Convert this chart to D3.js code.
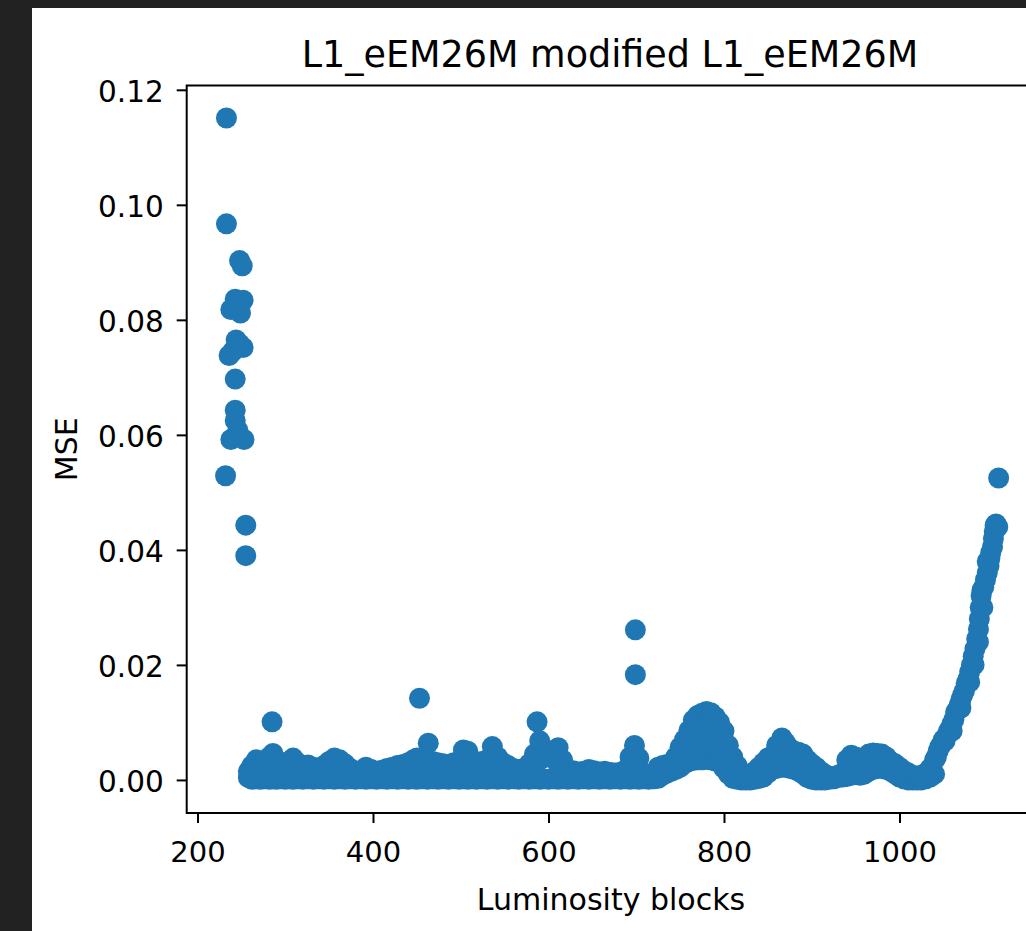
<!DOCTYPE html>
<html>
<head>
<meta charset="utf-8">
<script src="https://cdn.jsdelivr.net/npm/d3@7"></script>
<style>
body { margin: 0; background: #222; }
text { font-family: "DejaVu Sans", sans-serif; fill: #000; }
</style>
</head>
<body>
<div id="chart-area"></div>
<script>
/*
*    MSE per luminosity block
*/

var xTicks = [200, 400, 600, 800, 1000]
var yTicks = [0, 0.02, 0.04, 0.06, 0.08, 0.10, 0.12]

// early cluster and lone outliers
var spikeBlocks = [233, 233, 248, 251, 238, 243, 252, 249, 245, 236, 244, 252, 240, 248, 243,
  243, 243, 238, 253, 246, 232, 255, 255,
  285, 453, 463, 587, 699, 699, 1113]
var spikeMse = [0.1151, 0.0967, 0.0903, 0.0894, 0.0818, 0.0836, 0.0834, 0.0812, 0.0826, 0.0738, 0.0765, 0.0752, 0.0745, 0.0758, 0.0697,
  0.0643, 0.0625, 0.0592, 0.0592, 0.0608, 0.0529, 0.0443, 0.0390,
  0.0101, 0.0142, 0.0064, 0.0101, 0.0261, 0.0183, 0.0525]

// the dense band: lowest and highest value seen around each block
var bandBlocks = [258, 262, 267, 272, 277, 282, 286, 290, 295, 300, 305, 309, 314, 320, 326, 332, 338, 344, 350, 356,
  362, 368, 374, 380, 386, 392, 398, 404, 410, 416, 422, 428, 434, 440, 446, 450, 456, 462, 468, 474,
  480, 486, 492, 498, 503, 508, 513, 518, 524, 530, 536, 542, 548, 554, 560, 566, 572, 578, 584, 590,
  594, 600, 606, 611, 616, 622, 628, 634, 640, 646, 652, 658, 664, 670, 676, 682, 688, 693, 698, 703,
  708, 714, 720, 725, 730, 735, 740, 745, 750, 755, 760, 765, 770, 775, 780, 785, 790, 795, 800, 805,
  810, 815, 820, 825, 830, 835, 840, 845, 850, 855, 860, 866, 870, 875, 880, 885, 890, 895, 900, 905,
  910, 915, 920, 925, 930, 935, 940, 945, 950, 955, 960, 965, 970, 975, 980, 985, 990, 995, 1000, 1005,
  1010, 1015, 1020, 1025, 1030, 1035, 1040]
var bandLow = [0.0004, 0.0001, 0.0002, 0.0001, 0.0002, 0.0001, 0.0002, 0.0001, 0.0002, 0.0001, 0.0002, 0.0001, 0.0002, 0.0001, 0.0002, 0.0001, 0.0002, 0.0001, 0.0002, 0.0001,
  0.0002, 0.0001, 0.0002, 0.0001, 0.0002, 0.0001, 0.0002, 0.0001, 0.0002, 0.0001, 0.0002, 0.0001, 0.0002, 0.0001, 0.0002, 0.0001, 0.0002, 0.0001, 0.0002, 0.0001,
  0.0002, 0.0001, 0.0002, 0.0001, 0.0002, 0.0001, 0.0002, 0.0001, 0.0002, 0.0001, 0.0002, 0.0001, 0.0002, 0.0001, 0.0002, 0.0001, 0.0002, 0.0001, 0.0002, 0.0001,
  0.0002, 0.0001, 0.0002, 0.0001, 0.0002, 0.0001, 0.0002, 0.0001, 0.0002, 0.0001, 0.0002, 0.0001, 0.0002, 0.0001, 0.0002, 0.0001, 0.0002, 0.0001, 0.0002, 0.0001,
  0.0002, 0.0001, 0.0002, 0.0003, 0.0008, 0.0012, 0.0015, 0.0018, 0.0022, 0.0028, 0.0032, 0.0034, 0.0035, 0.0035, 0.0036, 0.0035, 0.0033, 0.0030, 0.0020, 0.0010,
  0.0003, 0.0001, 0.0000, 0.0000, 0.0000, 0.0001, 0.0003, 0.0005, 0.0012, 0.0018, 0.0020, 0.0022, 0.0022, 0.0020, 0.0018, 0.0015, 0.0010, 0.0004, 0.0001, 0.0000,
  0.0000, 0.0000, 0.0001, 0.0002, 0.0004, 0.0005, 0.0006, 0.0008, 0.0010, 0.0008, 0.0010, 0.0015, 0.0018, 0.0020, 0.0020, 0.0018, 0.0015, 0.0010, 0.0005, 0.0002,
  0.0000, 0.0000, 0.0000, 0.0000, 0.0002, 0.0005, 0.0010]
var bandHigh = [0.0015, 0.0025, 0.0035, 0.0030, 0.0032, 0.0040, 0.0046, 0.0035, 0.0020, 0.0028, 0.0033, 0.0038, 0.0030, 0.0022, 0.0026, 0.0022, 0.0020, 0.0025, 0.0032, 0.0038,
  0.0035, 0.0028, 0.0020, 0.0015, 0.0016, 0.0022, 0.0018, 0.0015, 0.0017, 0.0020, 0.0022, 0.0025, 0.0027, 0.0030, 0.0035, 0.0038, 0.0030, 0.0032, 0.0032, 0.0030,
  0.0028, 0.0025, 0.0030, 0.0032, 0.0052, 0.0050, 0.0030, 0.0028, 0.0032, 0.0035, 0.0058, 0.0040, 0.0030, 0.0025, 0.0020, 0.0018, 0.0020, 0.0028, 0.0045, 0.0068,
  0.0050, 0.0040, 0.0045, 0.0056, 0.0035, 0.0015, 0.0016, 0.0014, 0.0015, 0.0018, 0.0016, 0.0014, 0.0015, 0.0013, 0.0012, 0.0013, 0.0018, 0.0040, 0.0060, 0.0038,
  0.0012, 0.0008, 0.0012, 0.0022, 0.0025, 0.0027, 0.0028, 0.0040, 0.0057, 0.0070, 0.0086, 0.0104, 0.0112, 0.0116, 0.0119, 0.0117, 0.0110, 0.0100, 0.0085, 0.0060,
  0.0040, 0.0025, 0.0008, 0.0005, 0.0008, 0.0015, 0.0022, 0.0030, 0.0038, 0.0042, 0.0060, 0.0073, 0.0065, 0.0055, 0.0050, 0.0048, 0.0045, 0.0035, 0.0028, 0.0022,
  0.0015, 0.0010, 0.0006, 0.0006, 0.0008, 0.0012, 0.0035, 0.0043, 0.0040, 0.0025, 0.0035, 0.0045, 0.0047, 0.0046, 0.0045, 0.0040, 0.0032, 0.0028, 0.0022, 0.0016,
  0.0012, 0.0008, 0.0006, 0.0008, 0.0012, 0.0020, 0.0035]

// extra points inside the thicker humps
var fillBlocks = [286, 503, 536, 590, 611, 698, 750, 755, 760, 765, 765, 770, 770, 775, 775, 780, 780, 785, 785, 790,
  790, 795, 795, 800, 800, 805, 860, 866, 870]
var fillMse = [0.0022, 0.0026, 0.0030, 0.0035, 0.0028, 0.0030, 0.0040, 0.0050, 0.0058, 0.0060, 0.0082, 0.0062, 0.0088, 0.0064, 0.0090, 0.0065, 0.0092, 0.0064, 0.0090, 0.0060,
  0.0085, 0.0055, 0.0078, 0.0050, 0.0068, 0.0035, 0.0040, 0.0048, 0.0043]

// rising tail at the end of the run
var tailBlocks = [1042, 1044, 1046, 1048, 1050, 1052, 1054, 1056, 1058, 1060, 1062, 1064, 1066, 1068, 1070, 1072, 1074, 1076, 1078, 1080,
  1082, 1084, 1086, 1088, 1090, 1091, 1092, 1093, 1094, 1096, 1098, 1100, 1102, 1103, 1104, 1106, 1107, 1108, 1110, 1112,
  1085, 1095, 1100, 1090, 1080, 1070, 1060, 1109]
var tailMse = [0.0040, 0.0050, 0.0058, 0.0062, 0.0070, 0.0068, 0.0078, 0.0085, 0.0090, 0.0098, 0.0105, 0.0118, 0.0122, 0.0130, 0.0140, 0.0148, 0.0155, 0.0168, 0.0175, 0.0188,
  0.0200, 0.0215, 0.0228, 0.0245, 0.0262, 0.0280, 0.0300, 0.0320, 0.0330, 0.0335, 0.0348, 0.0360, 0.0372, 0.0385, 0.0395, 0.0405, 0.0420, 0.0432, 0.0445, 0.0440,
  0.0200, 0.0300, 0.0380, 0.0240, 0.0170, 0.0125, 0.0085, 0.0443]

var points = []
spikeBlocks.forEach((b, i) => points.push({block: b, mse: spikeMse[i]}))
bandBlocks.forEach((b, i) => {
  points.push({block: b, mse: bandLow[i]})
  points.push({block: b, mse: bandHigh[i]})
})
fillBlocks.forEach((b, i) => points.push({block: b, mse: fillMse[i]}))
tailBlocks.forEach((b, i) => points.push({block: b, mse: tailMse[i]}))

var width = 1026
var height = 931

var svg = d3.select("#chart-area").append("svg")
.attr("width", width)
.attr("height", height)
.style("display", "block")

svg.append("rect")
.attr("width", width)
.attr("height", height)
.attr("fill", "#222")

svg.append("rect")
.attr("x", 32)
.attr("y", 8)
.attr("width", width - 32)
.attr("height", height - 8)
.attr("fill", "#fff")

var plot = {left: 186.7, top: 85.5, right: 1035.5, bottom: 813}

var x = d3.scaleLinear()
.domain([187.7, 1155])
.range([plot.left, plot.right])

var y = d3.scaleLinear()
.domain([-0.00575, 0.12075])
.range([plot.bottom, plot.top])

// points
svg.append("g")
.selectAll("circle")
.data(points)
.enter().append("circle")
.attr("cx", d => x(d.block))
.attr("cy", d => y(d.mse))
.attr("r", 10.5)
.attr("fill", "#1f77b4")

// axes
var xAxisCall = d3.axisBottom(x)
.tickValues(xTicks)
.tickSize(10)
.tickSizeOuter(0)
.tickFormat(d3.format("d"))

var xAxisGroup = svg.append("g")
.attr("transform", "translate(0, " + plot.bottom + ")")
.call(xAxisCall)
xAxisGroup.select(".domain").remove()
xAxisGroup.selectAll("line").attr("stroke", "#000").attr("stroke-width", 2)
xAxisGroup.selectAll("text")
.attr("y", 49).attr("dy", 0)
.attr("font-size", "29px")
.attr("font-family", "DejaVu Sans")
.attr("fill", "#000")

var yAxisCall = d3.axisLeft(y)
.tickValues(yTicks)
.tickSize(10)
.tickSizeOuter(0)
.tickFormat(d3.format(".2f"))

var yAxisGroup = svg.append("g")
.attr("transform", "translate(" + plot.left + ", 0)")
.call(yAxisCall)
yAxisGroup.select(".domain").remove()
yAxisGroup.selectAll("line").attr("stroke", "#000").attr("stroke-width", 2)
yAxisGroup.selectAll("text")
.attr("x", -23).attr("dy", "0.38em")
.attr("font-size", "29.5px")
.attr("font-family", "DejaVu Sans")
.attr("fill", "#000")

// frame
svg.append("rect")
.attr("x", plot.left)
.attr("y", plot.top)
.attr("width", plot.right - plot.left)
.attr("height", plot.bottom - plot.top)
.attr("fill", "none")
.attr("stroke", "#000")
.attr("stroke-width", 2)

// title and labels
svg.append("text")
.attr("x", 610)
.attr("y", 67)
.attr("font-size", "36.5px")
.attr("text-anchor", "middle")
.text("L1_eEM26M modified L1_eEM26M")

svg.append("text")
.attr("x", 611)
.attr("y", 910)
.attr("font-size", "30px")
.attr("text-anchor", "middle")
.text("Luminosity blocks")

svg.append("text")
.attr("x", -(plot.top + plot.bottom) / 2)
.attr("y", 77)
.attr("font-size", "30px")
.attr("text-anchor", "middle")
.attr("transform", "rotate(-90)")
.text("MSE")
</script>
</body>
</html>
